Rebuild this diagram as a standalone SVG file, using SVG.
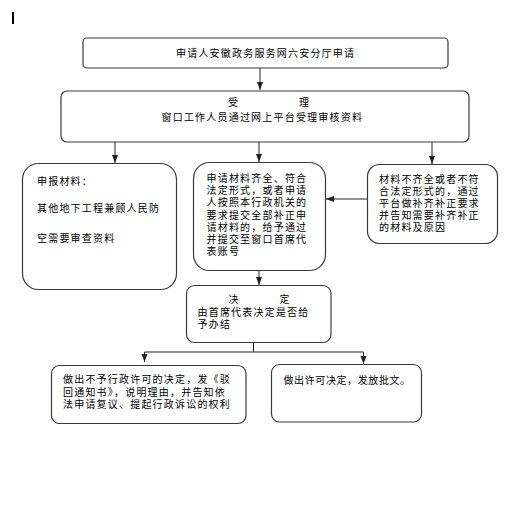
<svg xmlns="http://www.w3.org/2000/svg" width="520" height="523" viewBox="0 0 520 523">
<defs>
<marker id="ah" viewBox="0 0 8 8" refX="8" refY="4" markerWidth="8" markerHeight="8" markerUnits="userSpaceOnUse" orient="auto">
<path d="M0,1 L8,4 L0,7 Z" fill="#222"/>
</marker>
</defs>
<style>
.box{fill:#fff;stroke:#3a3a3a;stroke-width:1.2}
.t{font-family:"Noto Sans CJK SC","Noto Sans",sans-serif;font-size:10px;letter-spacing:1.2px;fill:#000}
.ln{fill:none;stroke:#222;stroke-width:1}
</style>
<rect width="520" height="523" fill="#fff"/>
<rect x="12" y="12" width="2" height="12" fill="#000"/>
<g id="connectors">
<line class="ln" x1="260" y1="68" x2="260" y2="90" marker-end="url(#ah)"/>
<line class="ln" x1="115" y1="142" x2="115" y2="163" marker-end="url(#ah)"/>
<line class="ln" x1="259" y1="142" x2="259" y2="162" marker-end="url(#ah)"/>
<line class="ln" x1="432" y1="142" x2="432" y2="164" marker-end="url(#ah)"/>
<line class="ln" x1="367" y1="199" x2="326" y2="199" marker-end="url(#ah)"/>
<line class="ln" x1="259" y1="271" x2="259" y2="285" marker-end="url(#ah)"/>
<polyline class="ln" points="253.5,343 253.5,352"/>
<line class="ln" x1="144.5" y1="352" x2="363.5" y2="352"/>
<line class="ln" x1="144.5" y1="352" x2="144.5" y2="362" marker-end="url(#ah)"/>
<line class="ln" x1="363.5" y1="352" x2="363.5" y2="364" marker-end="url(#ah)"/>
</g>
<g id="n1">
<rect class="box" x="83" y="38" width="365" height="30" rx="4"/>
<text class="t" x="176" y="56.5">申请人安徽政务服务网六安分厅申请</text>
</g>
<g id="n2">
<rect class="box" x="61" y="91" width="408" height="51" rx="6"/>
<text class="t" x="228" y="105.5">受</text>
<text class="t" x="299" y="105.5">理</text>
<text class="t" x="161.5" y="120.5">窗口工作人员通过网上平台受理审核资料</text>
</g>
<g id="n3">
<rect class="box" x="22.5" y="163.5" width="154" height="126" rx="16"/>
<text class="t" x="37" y="184.5">申报材料：</text>
<text class="t" x="37" y="212">其他地下工程兼顾人民防</text>
<text class="t" x="37" y="241.5">空需要审查资料</text>
</g>
<g id="n4">
<rect class="box" x="193.5" y="162.5" width="132" height="108" rx="16"/>
<text class="t" x="206.5" y="182">申请材料齐全、符合</text>
<text class="t" x="206.5" y="194.2">法定形式，或者申请</text>
<text class="t" x="206.5" y="206.4">人按照本行政机关的</text>
<text class="t" x="206.5" y="218.6">要求提交全部补正申</text>
<text class="t" x="206.5" y="230.8">请材料的，给予通过</text>
<text class="t" x="206.5" y="243">并提交至窗口首席代</text>
<text class="t" x="206.5" y="255.2">表账号</text>
</g>
<g id="n5">
<rect class="box" x="367.5" y="164.5" width="130" height="79" rx="12"/>
<text class="t" x="379" y="183">材料不齐全或者不符</text>
<text class="t" x="379" y="195">合法定形式的，通过</text>
<text class="t" x="379" y="207">平台做补齐补正要求</text>
<text class="t" x="379" y="219">并告知需要补齐补正</text>
<text class="t" x="379" y="231">的材料及原因</text>
</g>
<g id="n6">
<rect class="box" x="186.5" y="285.5" width="144.5" height="57" rx="8"/>
<text class="t" x="228.5" y="303">决</text>
<text class="t" x="279.5" y="303">定</text>
<text class="t" x="197.5" y="316">由首席代表决定是否给</text>
<text class="t" x="197.5" y="328">予办结</text>
</g>
<g id="n7">
<rect class="box" x="51.5" y="365.5" width="194.5" height="58" rx="8"/>
<text class="t" x="63" y="383">做出不予行政许可的决定，发《驳</text>
<text class="t" x="63" y="395.5">回通知书》，说明理由，并告知依</text>
<text class="t" x="63" y="408">法申请复议、提起行政诉讼的权利</text>
</g>
<g id="n8">
<rect class="box" x="271.5" y="364.5" width="150" height="57.5" rx="8"/>
<text class="t" x="283.5" y="384" style="letter-spacing:0.6px">做出许可决定，发放批文。</text>
</g>
</svg>
